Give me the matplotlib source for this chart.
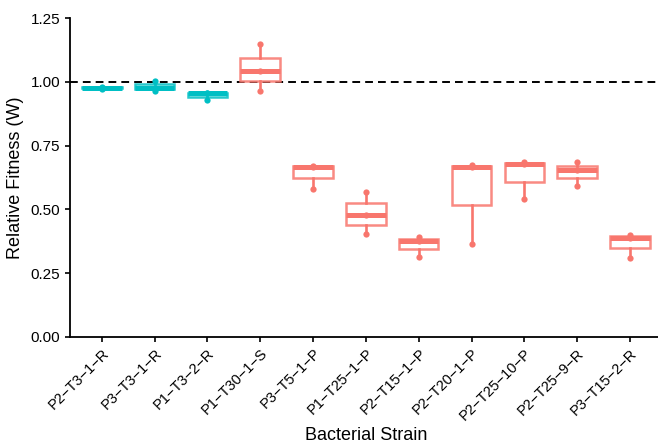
import matplotlib
matplotlib.use("Agg")
import matplotlib.pyplot as plt
import numpy as np

plt.rcParams["font.family"] = ["Liberation Sans", "DejaVu Sans"]

# strains and their fitness replicates
strains = ["P2\u2212T3\u22121\u2212R", "P3\u2212T3\u22121\u2212R", "P1\u2212T3\u22122\u2212R",
           "P1\u2212T30\u22121\u2212S", "P3\u2212T5\u22121\u2212P", "P1\u2212T25\u22121\u2212P",
           "P2\u2212T15\u22121\u2212P", "P2\u2212T20\u22121\u2212P", "P2\u2212T25\u221210\u2212P",
           "P2\u2212T25\u22129\u2212R", "P3\u2212T15\u22122\u2212R"]
fitness = [
    [0.972, 0.977, 0.979],
    [0.965, 0.977, 1.004],
    [0.929, 0.955, 0.958],
    [0.964, 1.043, 1.147],
    [0.579, 0.667, 0.670],
    [0.402, 0.478, 0.569],
    [0.313, 0.377, 0.390],
    [0.363, 0.668, 0.674],
    [0.541, 0.677, 0.684],
    [0.591, 0.653, 0.686],
    [0.308, 0.388, 0.400],
]
# first three are cyan, the rest salmon
colour_of = {0: "#00BFC4", 1: "#F8766D"}
col_idx = [0, 0, 0, 1, 1, 1, 1, 1, 1, 1, 1]

fig = plt.figure(figsize=(6.58, 4.45), dpi=100)
ax = fig.add_axes([70 / 658, 108 / 445, (661.7 - 70) / 658, (337 - 18) / 445])

pos = np.arange(1, len(strains) + 1)
for i, vals in enumerate(fitness):
    c = colour_of[col_idx[i]]
    ax.boxplot([vals], positions=[pos[i]], widths=0.75, whis=1.5,
               patch_artist=True, showfliers=False, showcaps=False,
               boxprops=dict(facecolor="white", edgecolor=c, linewidth=1.8, alpha=0.85),
               whiskerprops=dict(color=c, linewidth=1.9),
               medianprops=dict(color=c, linewidth=3.6, solid_capstyle="butt"))
    ax.plot(np.full(len(vals), pos[i]), vals, "o", color=c, markersize=4.5,
            markeredgewidth=0, zorder=5)

ax.axhline(1.0, color="black", linestyle=(0, (4, 2.6)), linewidth=1.4, zorder=1)

ax.set_xlim(0.4, len(strains) + 0.6)
ax.set_ylim(0, 1.25)
ax.set_yticks([0, 0.25, 0.5, 0.75, 1.0, 1.25])
ax.set_yticklabels(["0.00", "0.25", "0.50", "0.75", "1.00", "1.25"])
ax.set_xticks(pos)
ax.set_xticklabels(strains, rotation=45, ha="right", rotation_mode="anchor")

ax.spines["top"].set_visible(False)
ax.spines["right"].set_visible(False)
ax.spines["left"].set_linewidth(1.3)
ax.spines["bottom"].set_linewidth(1.3)
ax.tick_params(axis="both", length=3.5, width=1.2, labelsize=11, colors="black")
ax.tick_params(axis="x", pad=3, labelsize=10.5)

ax.set_xlabel("Bacterial Strain", fontsize=13, labelpad=3)
ax.set_ylabel("Relative Fitness (W)", fontsize=13, labelpad=5)

fig.savefig("out.png", dpi=100)
